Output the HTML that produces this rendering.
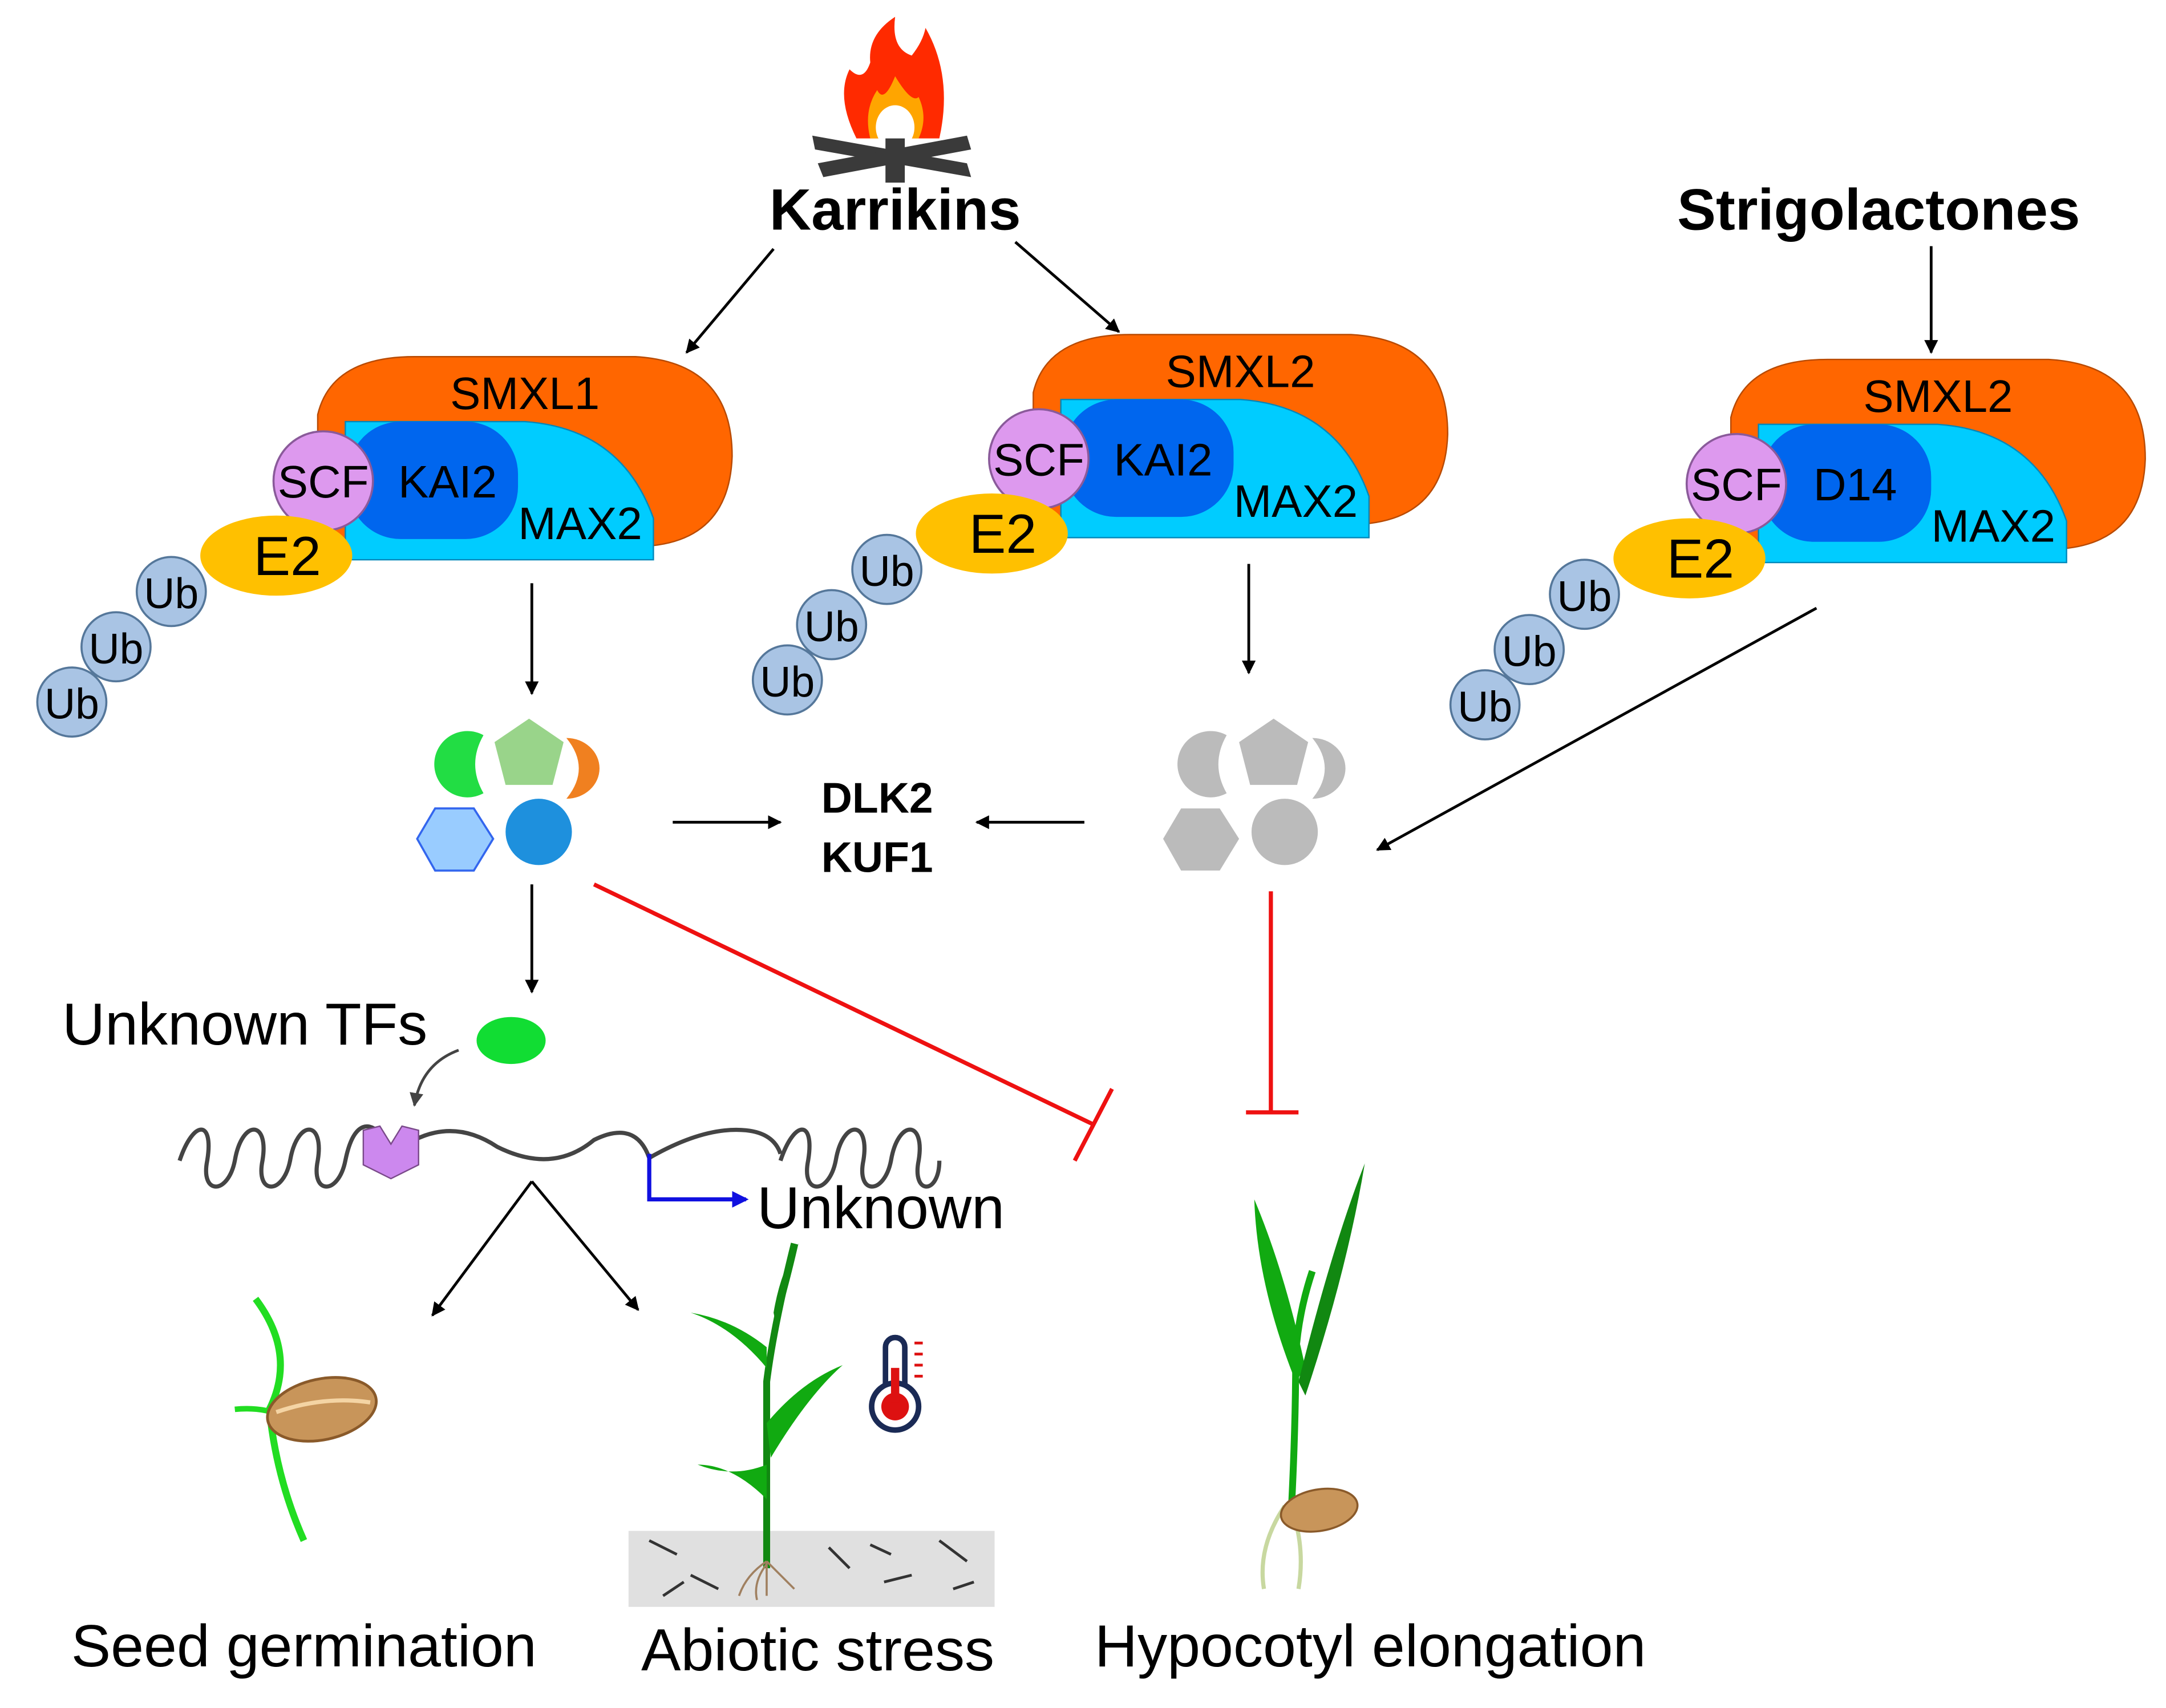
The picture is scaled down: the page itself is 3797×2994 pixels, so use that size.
<!DOCTYPE html>
<html><head><meta charset="utf-8"><style>
html,body{margin:0;padding:0;background:#fff}
svg{display:block}
text{font-family:"Liberation Sans",Arial,sans-serif}
</style></head><body>
<svg width="3797" height="2994" viewBox="0 0 1568 1236" xmlns="http://www.w3.org/2000/svg">
<defs>
<marker id="ah" markerWidth="10" markerHeight="10" refX="9" refY="5" orient="auto" markerUnits="userSpaceOnUse"><path d="M0,0 L10,5 L0,10 z" fill="#000"/></marker>
<marker id="ahg" markerWidth="10" markerHeight="10" refX="9" refY="5" orient="auto" markerUnits="userSpaceOnUse"><path d="M0,0 L10,5 L0,10 z" fill="#444"/></marker>
<marker id="ahb" markerWidth="12" markerHeight="12" refX="10" refY="6" orient="auto" markerUnits="userSpaceOnUse"><path d="M0,0 L12,6 L0,12 z" fill="#1010e0"/></marker>
<g id="cx">
<path d="M230,300 Q240,258 300,258 L460,258 Q530,262 530,330 Q528,390 470,395 L230,395 Z" fill="#ff6600" stroke="#b84a00" stroke-width="1"/>
<path d="M250,305 L380,305 Q450,310 473,375 L473,405 L250,405 Z" fill="#00ccff" stroke="#0088bb" stroke-width="1"/>
<rect x="252" y="305" width="123" height="85" rx="38" fill="#0066ee"/>
<circle cx="234" cy="348" r="36" fill="#dd99ee" stroke="#8a5a9a" stroke-width="1.5"/>
<ellipse cx="200" cy="402" rx="55" ry="29" fill="#ffc000"/>
<circle cx="124" cy="428" r="25" fill="#a9c4e4" stroke="#55779a" stroke-width="1.5"/>
<circle cx="84" cy="468" r="25" fill="#a9c4e4" stroke="#55779a" stroke-width="1.5"/>
<circle cx="52" cy="508" r="25" fill="#a9c4e4" stroke="#55779a" stroke-width="1.5"/>
<text x="234" y="360" font-size="33" text-anchor="middle">SCF</text>
<text x="208" y="416" font-size="40" text-anchor="middle">E2</text>
<text x="124" y="440" font-size="31" text-anchor="middle">Ub</text>
<text x="84" y="480" font-size="31" text-anchor="middle">Ub</text>
<text x="52" y="520" font-size="31" text-anchor="middle">Ub</text>
<text x="420" y="390" font-size="33" text-anchor="middle">MAX2</text>
</g>
</defs>

<path d="M620,100 Q605,70 615,50 Q625,60 630,45 Q628,25 648,12 Q645,35 660,40 Q668,30 670,20 Q690,55 680,100 Z" fill="#ff2a00"/>
<path d="M630,100 Q625,80 635,65 Q640,75 648,55 Q660,75 665,70 Q672,85 665,100 Z" fill="#ffa500"/>
<ellipse cx="648" cy="92" rx="14" ry="16" fill="#fff"/>
<path d="M588,98 L700,118 L703,128 L590,108 Z" fill="#3a3a3a"/>
<path d="M700,98 L592,118 L596,128 L703,108 Z" fill="#3a3a3a"/>
<rect x="641" y="100" width="14" height="32" fill="#3a3a3a"/>

<text x="648" y="166" font-size="42" font-weight="bold" text-anchor="middle">Karrikins</text>
<text x="1360" y="166" font-size="42" font-weight="bold" text-anchor="middle">Strigolactones</text>

<use href="#cx"/>
<text x="380" y="296" font-size="33" text-anchor="middle">SMXL1</text>
<text x="324" y="360" font-size="33" text-anchor="middle">KAI2</text>
<g transform="translate(518,-16)"><use href="#cx"/>
<text x="380" y="296" font-size="33" text-anchor="middle">SMXL2</text>
<text x="324" y="360" font-size="33" text-anchor="middle">KAI2</text></g>
<g transform="translate(1023,2)"><use href="#cx"/>
<text x="380" y="296" font-size="33" text-anchor="middle">SMXL2</text>
<text x="320" y="360" font-size="33" text-anchor="middle">D14</text></g>

<g stroke="#000" stroke-width="2" fill="none" marker-end="url(#ah)">
<line x1="560" y1="180" x2="497" y2="255"/>
<line x1="735" y1="175" x2="810" y2="240"/>
<line x1="1398" y1="178" x2="1398" y2="255"/>
<line x1="385" y1="422" x2="385" y2="502"/>
<line x1="904" y1="408" x2="904" y2="487"/>
<line x1="1315" y1="440" x2="997" y2="615"/>
<line x1="487" y1="595" x2="565" y2="595"/>
<line x1="785" y1="595" x2="707" y2="595"/>
<line x1="385" y1="640" x2="385" y2="718"/>
<line x1="385" y1="855" x2="313" y2="952"/>
<line x1="385" y1="855" x2="462" y2="948"/>
</g>

<path d="M350,532 A24,24 0 1 0 350,574 Q338,553 350,532 Z" fill="#22dd44"/>
<polygon points="383,520 408,537 400,568 366,568 358,537" fill="#99d48a"/>
<path d="M410,534 A24,22 0 1 1 410,578 Q428,556 410,534 Z" fill="#f08020"/>
<polygon points="315,585 343,585 357,607 343,630 315,630 302,607" fill="#99ccff" stroke="#3366ee" stroke-width="1.5"/>
<circle cx="390" cy="602" r="24" fill="#1e90dd"/>
<path d="M888,532 A24,24 0 1 0 888,574 Q876,553 888,532 Z" fill="#bbb"/>
<polygon points="922,520 947,537 939,568 905,568 897,537" fill="#bbb"/>
<path d="M950,534 A24,22 0 1 1 950,578 Q968,556 950,534 Z" fill="#bbb"/>
<polygon points="855,585 883,585 897,607 883,630 855,630 842,607" fill="#bbb"/>
<circle cx="930" cy="602" r="24" fill="#bbb"/>

<text x="635" y="588" font-size="31" font-weight="bold" text-anchor="middle">DLK2</text>
<text x="635" y="631" font-size="31" font-weight="bold" text-anchor="middle">KUF1</text>

<g stroke="#ee1111" stroke-width="3" fill="none">
<line x1="430" y1="640" x2="792" y2="814"/>
<line x1="778" y1="840" x2="805" y2="788"/>
<line x1="920" y1="645" x2="920" y2="805"/>
<line x1="902" y1="805" x2="940" y2="805"/>
</g>

<text x="45" y="756" font-size="43">Unknown TFs</text>
<ellipse cx="370" cy="753" rx="25" ry="17" fill="#11dd33"/>
<path d="M332,760 Q305,770 300,800" stroke="#444" stroke-width="2" fill="none" marker-end="url(#ahg)"/>

<g stroke="#444" stroke-width="3" fill="none">
<path d="M130,840 c10,-30 25,-30 20,0 c-5,25 15,25 20,0 c5,-30 25,-30 20,0 c-5,25 15,25 20,0 c5,-30 25,-30 20,0 c-5,25 15,25 20,0 c5,-25 15,-30 25,-20 L265,825"/>
<path d="M300,825 Q330,810 360,830 Q400,850 430,825 Q460,810 470,838 Q510,815 540,818 Q560,820 565,835"/>
<path d="M565,840 c10,-30 25,-30 20,0 c-5,25 15,25 20,0 c5,-30 25,-30 20,0 c-5,25 15,25 20,0 c5,-30 25,-30 20,0 c-5,25 15,25 15,0"/>
</g>
<polygon points="263,818 275,815 283,828 291,815 303,818 303,843 283,853 263,843" fill="#cc88ee" stroke="#7a4a8a" stroke-width="1"/>
<path d="M470,835 L470,868 L540,868" stroke="#1010e0" stroke-width="3" fill="none" marker-end="url(#ahb)"/>
<text x="548" y="889" font-size="43">Unknown</text>

<path d="M185,940 Q215,980 195,1020 Q200,1070 220,1115" stroke="#22dd22" stroke-width="5" fill="none"/>
<path d="M170,1020 Q190,1018 205,1025" stroke="#22dd22" stroke-width="4" fill="none"/>
<ellipse cx="233" cy="1020" rx="40" ry="22" transform="rotate(-12 233 1020)" fill="#c8955a" stroke="#8a5a2a" stroke-width="2"/>
<path d="M200,1022 Q235,1010 268,1015" stroke="#f4d4a4" stroke-width="3" fill="none"/>

<rect x="455" y="1108" width="265" height="55" fill="#e0e0e0"/>
<g stroke="#333" stroke-width="2">
<line x1="470" y1="1115" x2="490" y2="1125"/><line x1="500" y1="1140" x2="520" y2="1150"/><line x1="600" y1="1120" x2="615" y2="1135"/><line x1="640" y1="1145" x2="660" y2="1140"/><line x1="680" y1="1115" x2="700" y2="1130"/><line x1="480" y1="1155" x2="495" y2="1145"/><line x1="630" y1="1118" x2="645" y2="1125"/><line x1="690" y1="1150" x2="705" y2="1145"/>
</g>
<path d="M555,1135 L555,1000 Q560,960 575,900" stroke="#118811" stroke-width="5" fill="none"/>
<path d="M555,1060 Q530,1070 505,1060 Q530,1060 555,1085 Z" fill="#11aa11"/>
<path d="M555,1030 Q580,1000 610,988 Q585,1010 558,1055 Z" fill="#11aa11"/>
<path d="M555,990 Q530,960 500,950 Q530,955 555,975 Z" fill="#11aa11"/>
<path d="M560,950 Q565,920 578,900 Q570,935 562,960 Z" fill="#118811"/>
<g stroke="#a08060" stroke-width="1.5" fill="none"><path d="M555,1130 Q540,1140 535,1155 M555,1130 Q565,1140 575,1150 M555,1130 L555,1155 M555,1132 Q545,1145 548,1158"/></g>
<rect x="641" y="968" width="14" height="45" rx="7" fill="#fff" stroke="#1a2a55" stroke-width="4"/>
<circle cx="648" cy="1018" r="17" fill="#fff" stroke="#1a2a55" stroke-width="4"/>
<circle cx="648" cy="1018" r="10" fill="#dd1111"/>
<rect x="645" y="990" width="6" height="25" fill="#dd1111"/>
<g stroke="#dd1111" stroke-width="2"><line x1="662" y1="972" x2="668" y2="972"/><line x1="662" y1="980" x2="668" y2="980"/><line x1="662" y1="988" x2="668" y2="988"/><line x1="662" y1="996" x2="668" y2="996"/></g>

<path d="M935,1090 Q938,1030 938,980 Q940,950 950,920" stroke="#11aa11" stroke-width="5" fill="none"/>
<path d="M938,1000 Q910,930 908,868 Q930,920 945,990 Z" fill="#11aa11"/>
<path d="M940,1000 Q965,900 988,842 Q975,920 945,1010 Z" fill="#118811"/>
<g stroke="#c8d8a0" stroke-width="3" fill="none"><path d="M930,1090 Q910,1120 915,1150 M935,1092 Q945,1120 940,1150"/></g>
<ellipse cx="955" cy="1093" rx="28" ry="15" transform="rotate(-10 955 1093)" fill="#c8955a" stroke="#8a5a2a" stroke-width="1.5"/>

<text x="220" y="1206" font-size="43" text-anchor="middle">Seed germination</text>
<text x="592" y="1209" font-size="43" text-anchor="middle">Abiotic stress</text>
<text x="992" y="1206" font-size="43" text-anchor="middle">Hypocotyl elongation</text>
</svg>
</body></html>
